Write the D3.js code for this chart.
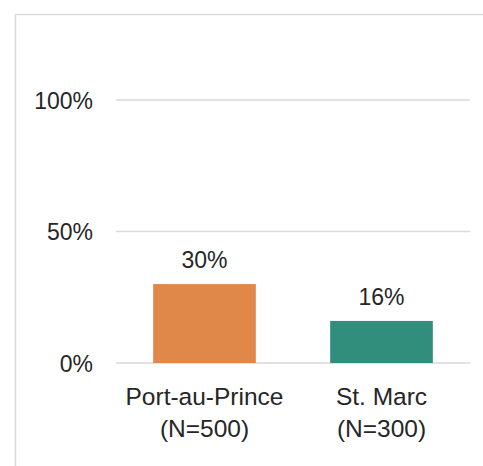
<!DOCTYPE html>
<html lang="en">
<head>
<meta charset="UTF-8"/>
<title>Bar chart</title>
<script src="https://cdn.jsdelivr.net/npm/d3@7/dist/d3.min.js"></script>
<style>
  body { margin: 0; background: #fff; }
  text { font-family: "Liberation Sans", sans-serif; fill: #262626; }
</style>
</head>
<body>
<div id="chart"></div>
<script>
var width = 483;
var height = 466;

// data
var categories = ["Port-au-Prince", "St. Marc"];
var sampleSizes = ["(N=500)", "(N=300)"];
var values = [0.30, 0.16];
var colors = ["#e0874a", "#318e7c"];
var yTicks = [0, 0.5, 1];

var margin = {left: 116, right: 13, top: 100, bottom: 103};

var svg = d3.select("#chart").append("svg")
  .attr("width", width)
  .attr("height", height);

// frame of the chart area (runs off the right and bottom)
svg.append("rect")
  .attr("x", 15.5).attr("y", 14.5)
  .attr("width", width + 20).attr("height", height + 20)
  .attr("fill", "none")
  .attr("stroke", "#d9d9d9")
  .attr("stroke-width", 1.5);

var x = d3.scaleBand()
  .domain(categories)
  .range([margin.left, width - margin.right])
  .paddingInner(0.42)
  .paddingOuter(0.21);

var y = d3.scaleLinear()
  .domain([0, 1])
  .range([height - margin.bottom, margin.top]);

// gridlines
svg.append("g")
  .selectAll("line")
  .data(yTicks)
  .join("line")
  .attr("x1", margin.left).attr("x2", width - margin.right)
  .attr("y1", d => y(d)).attr("y2", d => y(d))
  .attr("stroke", "#d9d9d9")
  .attr("stroke-width", 1.5);

// y axis labels
svg.append("g")
  .selectAll("text")
  .data(yTicks)
  .join("text")
  .attr("x", 93)
  .attr("y", d => y(d) + 8.5)
  .attr("text-anchor", "end")
  .attr("font-size", 23)
  .text(d => d3.format(".0%")(d));

// bars
svg.append("g")
  .selectAll("rect")
  .data(values)
  .join("rect")
  .attr("x", (d, i) => x(categories[i]))
  .attr("width", x.bandwidth())
  .attr("y", d => y(d))
  .attr("height", d => y(0) - y(d))
  .attr("fill", (d, i) => colors[i]);

// data labels
svg.append("g")
  .selectAll("text")
  .data(values)
  .join("text")
  .attr("x", (d, i) => x(categories[i]) + x.bandwidth() / 2)
  .attr("y", d => y(d) - 16)
  .attr("text-anchor", "middle")
  .attr("font-size", 23)
  .text(d => d3.format(".0%")(d));

// category labels
var cat = svg.append("g")
  .selectAll("text")
  .data(categories)
  .join("text")
  .attr("text-anchor", "middle")
  .attr("font-size", 24.5)
  .attr("transform", d => "translate(" + (x(d) + x.bandwidth() / 2) + "," + (y(0) + 42) + ")");
cat.append("tspan").attr("x", 0).attr("y", 0).text(d => d);
cat.append("tspan").attr("x", 0).attr("y", 32).text((d, i) => sampleSizes[i]);
</script>
</body>
</html>
